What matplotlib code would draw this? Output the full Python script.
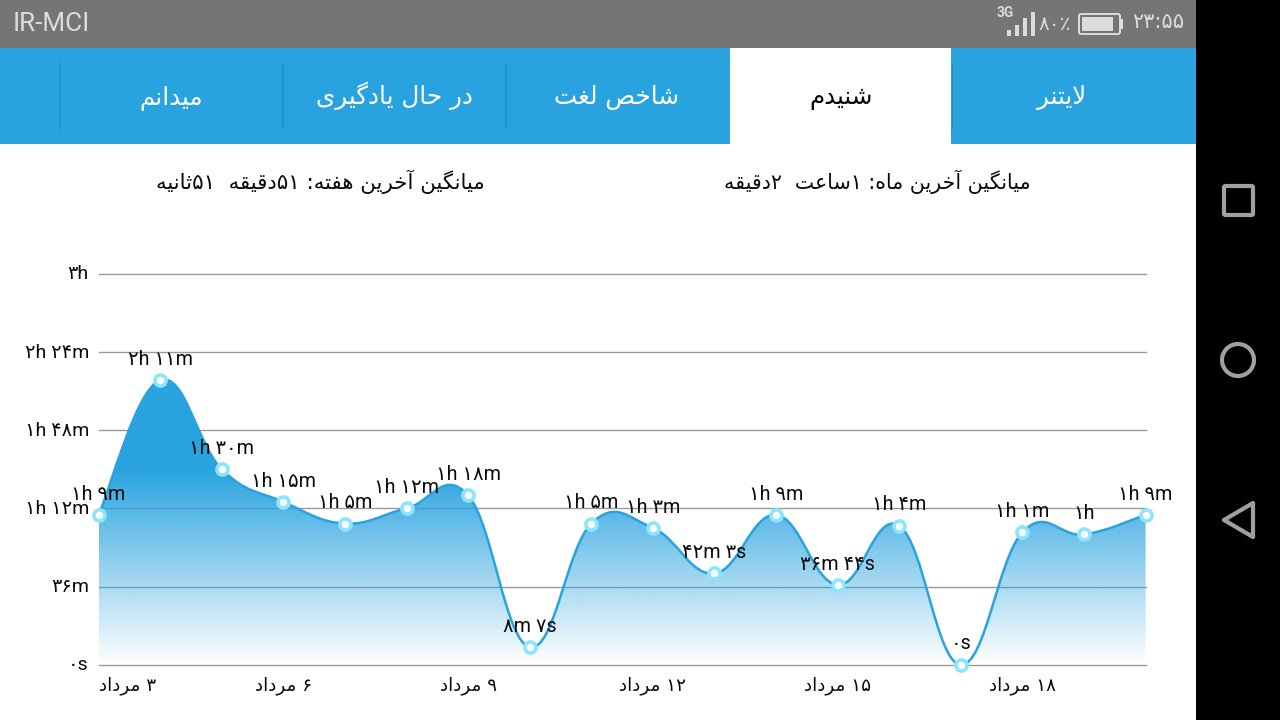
import re

import numpy as np
import matplotlib
matplotlib.use('Agg')
import matplotlib.pyplot as plt
from matplotlib.patches import Rectangle, Circle, Polygon, PathPatch, FancyBboxPatch
from matplotlib.path import Path
from matplotlib.transforms import ScaledTranslation

# chart data, durations in seconds
durations = [4140, 7860, 5400, 4500, 3900, 4320, 4680, 487, 3900, 3780,
             2523, 4140, 2204, 3840, 0, 3660, 3600, 4140]
point_labels = ['۱h ۹m', '۲h ۱۱m', '۱h ۳۰m', '۱h ۱۵m', '۱h ۵m', '۱h ۱۲m',
                '۱h ۱۸m', '۸m ۷s', '۱h ۵m', '۱h ۳m', '۴۲m ۳s', '۱h ۹m',
                '۳۶m ۴۴s', '۱h ۴m', '۰s', '۱h ۱m', '۱h', '۱h ۹m']
y_ticks = [0, 2160, 4320, 6480, 8640, 10800]
y_labels = ['۰s', '۳۶m', '۱h ۱۲m', '۱h ۴۸m', '۲h ۲۴m', '۳h']
x_ticks = [0, 3, 6, 9, 12, 15]
x_labels = ['۳ مرداد', '۶ مرداد', '۹ مرداد', '۱۲ مرداد', '۱۵ مرداد', '۱۸ مرداد']
tab_names = ['لایتنر', 'شنیدم', 'شاخص لغت', 'در حال یادگیری', 'میدانم']
tab_centers = [1062, 841, 617, 394, 171]
month_avg = 'میانگین آخرین ماه: ۱ساعت  ۲دقیقه'
week_avg = 'میانگین آخرین هفته: ۵۱دقیقه  ۵۱ثانیه'

BLUE = '#29a3e0'
TEXT = '#0a0a0a'
LATIN_FONT = ['Roboto', 'DejaVu Sans']

# matplotlib has no Arabic shaping, so map letters to presentation forms
JOINING = {'ب': 0xFE8F, 'ت': 0xFE95, 'ث': 0xFE99, 'ج': 0xFE9D, 'ح': 0xFEA1,
           'خ': 0xFEA5, 'س': 0xFEB1, 'ش': 0xFEB5, 'ص': 0xFEB9, 'ض': 0xFEBD,
           'ط': 0xFEC1, 'ظ': 0xFEC5, 'ع': 0xFEC9, 'غ': 0xFECD, 'ف': 0xFED1,
           'ق': 0xFED5, 'ل': 0xFEDD, 'م': 0xFEE1, 'ن': 0xFEE5, 'ه': 0xFEE9,
           'پ': 0xFB56, 'چ': 0xFB7A, 'ک': 0xFB8E, 'گ': 0xFB92, 'ی': 0xFBFC}
RIGHT_ONLY = {'ا': 0xFE8D, 'آ': 0xFE81, 'د': 0xFEA9, 'ذ': 0xFEAB, 'ر': 0xFEAD,
              'ز': 0xFEAF, 'ژ': 0xFB8A, 'و': 0xFEED}


def persian(text):
    """
        Shape a Persian string and put it in visual (left to right) order
    :param text: The string in logical order
    """
    shaped = ''
    i = 0
    while i < len(text):
        ch = text[i]
        prev_joins = i > 0 and text[i - 1] in JOINING
        next_ch = text[i + 1] if i + 1 < len(text) else ''
        if ch == 'ل' and next_ch == 'ا':
            shaped += chr(0xFEFC if prev_joins else 0xFEFB)
            i += 2
            continue
        next_joins = next_ch in JOINING or next_ch in RIGHT_ONLY
        if ch in JOINING:
            offset = {(False, False): 0, (True, False): 1,
                      (False, True): 2, (True, True): 3}[(prev_joins, next_joins)]
            shaped += chr(JOINING[ch] + offset)
        elif ch in RIGHT_ONLY:
            shaped += chr(RIGHT_ONLY[ch] + (1 if prev_joins else 0))
        else:
            shaped += ch
        i += 1
    return ''.join(reversed(re.findall(r'[۰-۹:]*[۰-۹]|.', shaped)))


def curve_path(xs, ys, intensity=0.2):
    # cubic bezier through the points, tangents from the neighbouring points
    n = len(xs)
    verts = [(xs[0], ys[0])]
    codes = [Path.MOVETO]
    for j in range(1, n):
        a, b, c = max(j - 2, 0), j - 1, min(j + 1, n - 1)
        verts.append((xs[b] + (xs[j] - xs[a]) * intensity, ys[b] + (ys[j] - ys[a]) * intensity))
        verts.append((xs[j] - (xs[c] - xs[b]) * intensity, ys[j] - (ys[c] - ys[b]) * intensity))
        verts.append((xs[j], ys[j]))
        codes += [Path.CURVE4] * 3
    return verts, codes


fig = plt.figure(figsize=(12.8, 7.2), dpi=100, facecolor='white')

# phone screen, in pixel coordinates
ui = fig.add_axes([0, 0, 1, 1])
ui.set_xlim(0, 1280)
ui.set_ylim(720, 0)
ui.axis('off')
ui.add_patch(Rectangle((0, 0), 1196, 48, color='#757575', lw=0))
ui.add_patch(Rectangle((0, 48), 1196, 96, color=BLUE, lw=0))
ui.add_patch(Rectangle((730, 48), 221, 96, color='white', lw=0))
ui.add_patch(Rectangle((1196, 0), 84, 720, color='black', lw=0))
for x in [60, 283, 506]:
    ui.plot([x, x], [64, 128], color='#2390c8', lw=1.4)
ui.plot([951.5, 951.5], [64, 128], color='#2390c8', lw=1.0)

for i, name in enumerate(tab_names):
    ui.text(tab_centers[i], 104, persian(name), color=TEXT if i == 1 else 'white',
            fontsize=17.7, ha='center', va='baseline', family='DejaVu Sans')
ui.text(877, 182, persian(month_avg), fontsize=14.8, ha='center', va='center', color=TEXT)
ui.text(320, 182, persian(week_avg), fontsize=15.4, ha='center', va='center', color=TEXT)

# status bar
STATUS = '#dcdcdc'
ui.text(12.5, 24, 'IR-MCI', color=STATUS, fontsize=18.8, ha='left', va='center', family=LATIN_FONT)
ui.text(1005, 13, '3G', color=STATUS, fontsize=10, fontweight='bold', ha='center', va='center', family=LATIN_FONT)
for x, top in zip([1007, 1015, 1023, 1031], [30, 25, 18, 12]):
    ui.add_patch(Rectangle((x, top), 4, 36 - top, color=STATUS, lw=0))
ui.text(1055, 24, '۸۰٪', color=STATUS, fontsize=14.5, ha='center', va='center')
ui.add_patch(FancyBboxPatch((1079, 14), 41, 20, boxstyle='round,pad=0,rounding_size=2',
                            fc='none', ec=STATUS, lw=1.4))
ui.add_patch(Rectangle((1082, 17), 31, 14, color=STATUS, lw=0))
ui.add_patch(Rectangle((1120, 19), 3, 10, color=STATUS, lw=0))
ui.text(1158, 22, '۲۳:۵۵', color=STATUS, fontsize=15, ha='center', va='center')

# navigation buttons
NAV = '#a0a0a0'
ui.add_patch(FancyBboxPatch((1224, 186), 29, 29, boxstyle='round,pad=0,rounding_size=1.5',
                            fc='none', ec=NAV, lw=3))
ui.add_patch(Circle((1238, 360), 16, fc='none', ec=NAV, lw=3))
ui.add_patch(Polygon([(1253, 503), (1253, 537), (1224, 520)], closed=True, fc='none', ec=NAV, lw=3, joinstyle='round'))

# chart
ax = fig.add_axes([98.6 / 1280, 55.2 / 720, 1047 / 1280, 391 / 720])
ax.patch.set_alpha(0)
ax.set_xlim(0, len(durations) - 1)
ax.set_ylim(y_ticks[0], y_ticks[-1])
for side in ax.spines.values():
    side.set_visible(False)
ax.set_yticks(y_ticks)
ax.set_yticklabels(y_labels, fontsize=14, family=LATIN_FONT, color=TEXT)
ax.set_xticks(x_ticks)
ax.set_xticklabels([persian(s) for s in x_labels], fontsize=13.2, color=TEXT)
ax.get_xticklabels()[0].set_ha('left')
ax.tick_params(length=0, axis='y', pad=7)
ax.tick_params(length=0, axis='x', pad=8.5)
for label in ax.get_yticklabels():
    label.set_transform(label.get_transform() + ScaledTranslation(0, 1.5 / 100, fig.dpi_scale_trans))
ax.grid(axis='y', color='#9a9a9a', lw=1.0)
ax.set_axisbelow(True)
for line in ax.get_ygridlines():
    line.set_clip_on(False)

x_pos = list(range(len(durations)))
verts, codes = curve_path(x_pos, durations)

# gradient fill: solid blue above 1h30, fading out to the baseline
alpha = np.clip(np.linspace(1, 0, 256) * y_ticks[-1] / 5400, 0, 1)
gradient = np.zeros((256, 1, 4))
gradient[..., :3] = matplotlib.colors.to_rgb(BLUE)
gradient[:, 0, 3] = alpha
image = ax.imshow(gradient, extent=[0, len(durations) - 1, 0, y_ticks[-1]],
                  aspect='auto', zorder=2, interpolation='bilinear')
fill_verts = verts + [(x_pos[-1], 0), (x_pos[0], 0), (x_pos[0], durations[0])]
fill_codes = codes + [Path.LINETO, Path.LINETO, Path.CLOSEPOLY]
image.set_clip_path(PathPatch(Path(fill_verts, fill_codes), transform=ax.transData))

ax.add_patch(PathPatch(Path(verts, codes), fc='none', ec=BLUE, lw=1.8, zorder=3, clip_on=False))
ax.plot(x_pos, durations, ls='none', marker='o', ms=8, mew=2.6, mfc='white', mec='#8be6fd',
        zorder=4, clip_on=False)

for x, y, label in zip(x_pos, durations, point_labels):
    ax.annotate(label, (x, y), xytext=(0, 15), textcoords='offset points', ha='center', va='center',
                fontsize=14.2, family=LATIN_FONT, color=TEXT, zorder=5, annotation_clip=False)

fig.savefig('out.png', dpi=100)
